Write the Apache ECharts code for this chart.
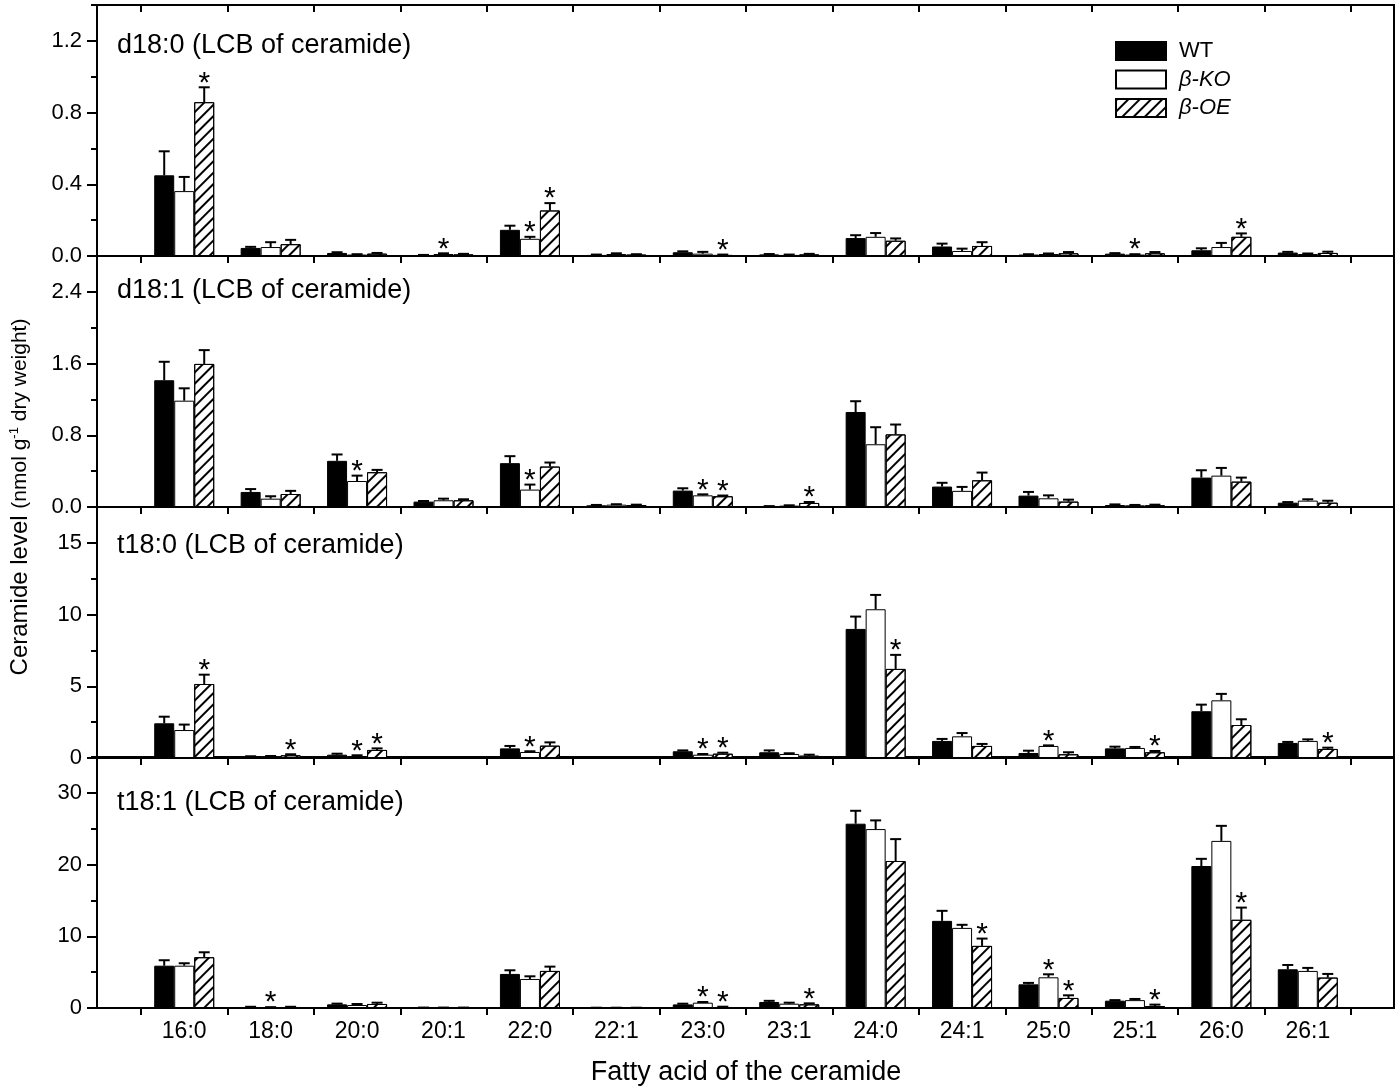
<!DOCTYPE html>
<html>
<head>
<meta charset="utf-8">
<script src="https://cdn.jsdelivr.net/npm/echarts@6/dist/echarts.min.js"></script>
<style>
html, body { margin: 0; padding: 0; background: #fff; }
#main { width: 1400px; height: 1091px; }
</style>
</head>
<body>
<div id="main"></div>
<script>
var categories = ['16:0', '18:0', '20:0', '20:1', '22:0', '22:1', '23:0', '23:1', '24:0', '24:1', '25:0', '25:1', '26:0', '26:1'];
var genotypes = ['WT', 'β-KO', 'β-OE'];
var panelNames = ['d18:0 (LCB of ceramide)', 'd18:1 (LCB of ceramide)', 't18:0 (LCB of ceramide)', 't18:1 (LCB of ceramide)'];
var yMax = [1.4, 2.8, 17.5, 35];
var yStep = [0.4, 0.8, 5, 10];
var yDecimals = [1, 1, 0, 0];

// d18:0
var d180WT = [0.45, 0.045, 0.017, 0.004, 0.146, 0.006, 0.021, 0.009, 0.10, 0.053, 0.008, 0.013, 0.032, 0.019];
var d180WTsd = [0.134, 0.006, 0.004, 0.002, 0.023, 0.002, 0.005, 0.002, 0.016, 0.016, 0.002, 0.003, 0.011, 0.004];
var d180KO = [0.362, 0.05, 0.008, 0.011, 0.096, 0.011, 0.013, 0.006, 0.107, 0.028, 0.011, 0.008, 0.05, 0.011];
var d180KOsd = [0.079, 0.027, 0.002, 0.004, 0.011, 0.004, 0.01, 0.002, 0.021, 0.013, 0.003, 0.002, 0.023, 0.003];
var d180OE = [0.858, 0.066, 0.013, 0.009, 0.254, 0.008, 0.006, 0.009, 0.085, 0.056, 0.015, 0.015, 0.107, 0.017];
var d180OEsd = [0.083, 0.024, 0.004, 0.003, 0.041, 0.002, 0.002, 0.003, 0.013, 0.021, 0.007, 0.007, 0.019, 0.007];
var d180Stars = [[], [3, 4, 11], [0, 4, 6, 12]];

// d18:1
var d181WT = [1.414, 0.168, 0.515, 0.06, 0.489, 0.019, 0.183, 0.007, 1.06, 0.228, 0.127, 0.022, 0.328, 0.048];
var d181WTsd = [0.206, 0.032, 0.071, 0.007, 0.078, 0.004, 0.026, 0.003, 0.12, 0.042, 0.041, 0.007, 0.082, 0.007];
var d181KO = [1.186, 0.093, 0.29, 0.075, 0.194, 0.026, 0.13, 0.015, 0.70, 0.18, 0.097, 0.019, 0.35, 0.071];
var d181KOsd = [0.138, 0.027, 0.06, 0.018, 0.056, 0.005, 0.011, 0.004, 0.19, 0.044, 0.033, 0.004, 0.086, 0.015];
var d181OE = [1.596, 0.145, 0.388, 0.075, 0.451, 0.022, 0.12, 0.045, 0.81, 0.298, 0.06, 0.019, 0.283, 0.048];
var d181OEsd = [0.154, 0.035, 0.026, 0.011, 0.045, 0.004, 0.008, 0.011, 0.11, 0.086, 0.022, 0.007, 0.045, 0.022];
var d181Stars = [[], [2, 4, 6], [6, 7]];

// t18:0
var t180WT = [2.42, 0.09, 0.23, 0.02, 0.67, 0.02, 0.47, 0.4, 9.0, 1.19, 0.35, 0.67, 3.26, 1.05];
var t180WTsd = [0.46, 0.03, 0.07, 0.01, 0.17, 0.01, 0.06, 0.13, 0.86, 0.14, 0.16, 0.12, 0.46, 0.07];
var t180KO = [1.95, 0.12, 0.14, 0.02, 0.42, 0.02, 0.23, 0.28, 10.37, 1.51, 0.84, 0.7, 4.02, 1.19];
var t180KOsd = [0.38, 0.02, 0.05, 0.01, 0.05, 0.01, 0.05, 0.05, 1.0, 0.23, 0.04, 0.07, 0.45, 0.11];
var t180OE = [5.16, 0.19, 0.56, 0.02, 0.86, 0.02, 0.3, 0.16, 6.21, 0.84, 0.26, 0.4, 2.3, 0.63];
var t180OEsd = [0.65, 0.07, 0.11, 0.01, 0.23, 0.01, 0.07, 0.07, 0.98, 0.14, 0.14, 0.09, 0.4, 0.09];
var t180Stars = [[], [2, 4, 6, 10], [0, 1, 2, 6, 8, 11, 13]];

// t18:1
var t181WT = [5.9, 0.14, 0.51, 0.05, 4.75, 0.03, 0.5, 0.84, 25.7, 12.15, 3.3, 1.02, 19.8, 5.4];
var t181WTsd = [0.76, 0.03, 0.1, 0.01, 0.51, 0.01, 0.1, 0.16, 1.8, 1.4, 0.2, 0.08, 1.0, 0.6];
var t181KO = [5.9, 0.1, 0.42, 0.05, 4.05, 0.03, 0.74, 0.6, 24.95, 11.17, 4.28, 1.1, 23.3, 5.17];
var t181KOsd = [0.34, 0.02, 0.14, 0.01, 0.37, 0.01, 0.1, 0.14, 1.21, 0.43, 0.42, 0.16, 2.1, 0.42];
var t181OE = [7.08, 0.14, 0.56, 0.05, 5.17, 0.03, 0.14, 0.51, 20.5, 8.66, 1.4, 0.28, 12.3, 4.24];
var t181OEsd = [0.69, 0.03, 0.18, 0.01, 0.6, 0.01, 0.04, 0.14, 3.05, 1.02, 0.37, 0.19, 1.7, 0.51];
var t181Stars = [[], [1, 6, 10], [6, 7, 9, 10, 11, 12]];

var panels = [
	{ mean: [d180WT, d180KO, d180OE], sd: [d180WTsd, d180KOsd, d180OEsd], stars: d180Stars },
	{ mean: [d181WT, d181KO, d181OE], sd: [d181WTsd, d181KOsd, d181OEsd], stars: d181Stars },
	{ mean: [t180WT, t180KO, t180OE], sd: [t180WTsd, t180KOsd, t180OEsd], stars: t180Stars },
	{ mean: [t181WT, t181KO, t181OE], sd: [t181WTsd, t181KOsd, t181OEsd], stars: t181Stars }
];

var FONT = '"Liberation Sans", Arial, Helvetica, sans-serif';
var tops = [5, 256, 507, 757];
var titleTops = [32, 277, 532, 789];
var panelH = 251;
var barW = 20;

var barStyles = [
	{ color: '#000', borderColor: '#000', borderWidth: 1 },
	{ color: '#fff', borderColor: '#000', borderWidth: 1 },
	{ color: '#fff', borderColor: '#000', borderWidth: 1,
		decal: { symbol: 'rect', symbolSize: 1, color: '#000', dashArrayX: [1, 0], dashArrayY: [1.2, 6], rotation: -Math.PI / 4 } }
];

function errRender(offset) {
	return function (params, api) {
		var base = api.coord([api.value(0), api.value(1)]);
		var top = api.coord([api.value(0), api.value(1) + api.value(2)]);
		var x = base[0] + offset;
		var kids = [
			{ type: 'line', shape: { x1: x, y1: base[1], x2: x, y2: top[1] }, style: { stroke: '#000', lineWidth: 2 } },
			{ type: 'line', shape: { x1: x - 5.5, y1: top[1], x2: x + 5.5, y2: top[1] }, style: { stroke: '#000', lineWidth: 2 } }
		];
		if (api.value(3)) {
			kids.push({ type: 'text', style: { text: '*', x: x, y: top[1] - 4, align: 'center', verticalAlign: 'middle',
				fontSize: 30, fontFamily: FONT, fill: '#000' } });
		}
		return { type: 'group', children: kids };
	};
}

var grid = [], xAxis = [], yAxis = [], series = [], title = [];

panels.forEach(function (p, k) {
	var top = tops[k];
	// frame grid
	grid.push({ left: 97, right: 6, top: top, height: panelH, show: true, borderColor: '#000', borderWidth: 2, backgroundColor: 'transparent' });
	// bar grid
	grid.push({ left: 141, right: 49, top: top, height: panelH });

	xAxis.push({ type: 'value', gridIndex: 2 * k, show: false, min: 0, max: 1 });
	xAxis.push({
		type: 'category', gridIndex: 2 * k + 1, data: categories, position: 'bottom',
		axisLine: { show: false },
		axisTick: { show: true, length: 7, lineStyle: { color: '#000', width: 2 } },
		axisLabel: { show: k === 3, color: '#000', fontSize: 23, fontFamily: FONT, margin: 12 },
		name: k === 3 ? 'Fatty acid of the ceramide' : '',
		nameLocation: 'middle', nameGap: 51,
		nameTextStyle: { color: '#000', fontSize: 27, fontFamily: FONT }
	});

	var dec = yDecimals[k];
	yAxis.push({
		type: 'value', gridIndex: 2 * k, position: 'left', offset: 0,
		min: 0, max: yMax[k], interval: yStep[k],
		axisLine: { show: true, lineStyle: { color: '#000', width: 2 } },
		axisTick: { show: true, length: 10, lineStyle: { color: '#000', width: 2 } },
		axisLabel: { color: '#000', fontSize: 22, fontFamily: FONT, margin: 15, showMaxLabel: false,
			formatter: function (v) { return v.toFixed(dec); } },
		splitLine: { show: false }
	});
	yAxis.push({
		type: 'value', gridIndex: 2 * k, position: 'left', offset: 0,
		min: 0, max: yMax[k], interval: yStep[k] / 2,
		axisLine: { show: false },
		axisTick: { show: true, length: 6, lineStyle: { color: '#000', width: 2 } },
		axisLabel: { show: false },
		splitLine: { show: false }
	});
	yAxis.push({ type: 'value', gridIndex: 2 * k + 1, min: 0, max: yMax[k], show: false, splitLine: { show: false } });

	title.push({
		text: panelNames[k], left: 117, top: titleTops[k], padding: 0,
		textStyle: { color: '#000', fontSize: 27, fontWeight: 'normal', fontFamily: FONT }
	});

	for (var g = 0; g < 3; g++) {
		series.push({
			type: 'bar', name: genotypes[g], xAxisIndex: 2 * k + 1, yAxisIndex: 3 * k + 2,
			data: p.mean[g], barWidth: barW, barGap: '0%', itemStyle: barStyles[g], silent: true
		});
		var stars = p.stars[g];
		var sdArr = p.sd[g];
		series.push({
			type: 'custom', name: 'err' + k + g, xAxisIndex: 2 * k + 1, yAxisIndex: 3 * k + 2, z: 5, silent: true,
			data: p.mean[g].map(function (m, i) { return [i, m, sdArr[i], stars.indexOf(i) >= 0 ? 1 : 0]; }),
			renderItem: errRender((g - 1) * barW)
		});
	}
});

// top ticks of the first panel
xAxis.push({
	type: 'category', gridIndex: 1, data: categories, position: 'top',
	axisLine: { show: false },
	axisTick: { show: true, inside: true, length: 7, lineStyle: { color: '#000', width: 2 } },
	axisLabel: { show: false }
});

// grid that only carries the shared y title
grid.push({ left: 97, right: 6, top: 5, height: 984 });
xAxis.push({ type: 'value', gridIndex: 8, show: false });
yAxis.push({
	type: 'value', gridIndex: 8,
	axisLine: { show: false }, axisTick: { show: false }, axisLabel: { show: false }, splitLine: { show: false },
	name: '{a|Ceramide level }{b|(nmol g}{s|-1}{b| dry weight)}',
	nameLocation: 'middle', nameGap: 70, nameRotate: 90,
	nameTextStyle: {
		color: '#000', fontFamily: FONT, fontSize: 24,
		rich: {
			a: { color: '#000', fontFamily: FONT, fontSize: 24 },
			b: { color: '#000', fontFamily: FONT, fontSize: 21 },
			s: { color: '#000', fontFamily: FONT, fontSize: 13, verticalAlign: 'top' }
		}
	}
});

var myChart = echarts.init(document.getElementById('main'));
var option = {
	animation: false,
	backgroundColor: '#fff',
	title: title,
	legend: {
		orient: 'vertical', left: 1115, top: 40, padding: 0,
		itemWidth: 50, itemHeight: 18, itemGap: 6.5, icon: 'rect',
		data: [
			{ name: 'WT' },
			{ name: 'β-KO', textStyle: { fontStyle: 'italic' } },
			{ name: 'β-OE', textStyle: { fontStyle: 'italic' } }
		],
		textStyle: { color: '#000', fontSize: 22, fontFamily: FONT, padding: [0, 0, 0, 8] },
		selectedMode: false
	},
	grid: grid,
	xAxis: xAxis,
	yAxis: yAxis,
	series: series
};
myChart.setOption(option);
</script>
</body>
</html>
